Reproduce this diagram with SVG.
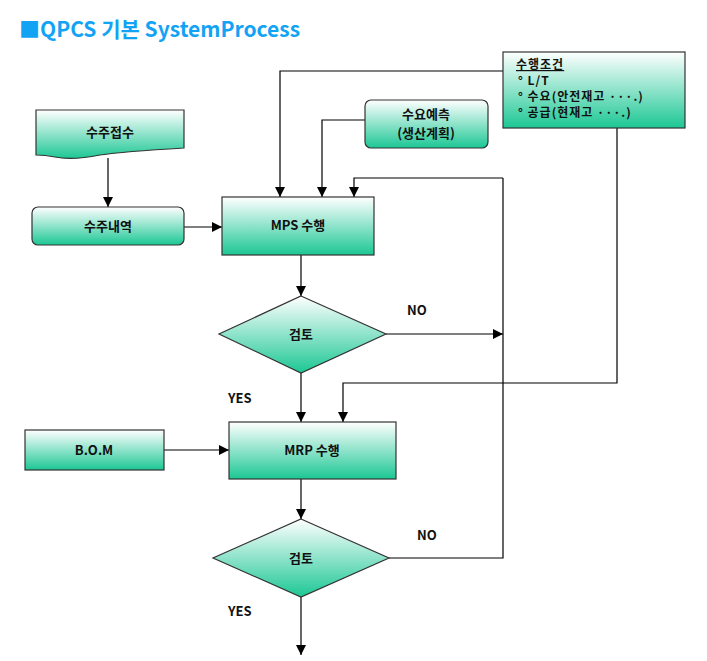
<svg xmlns="http://www.w3.org/2000/svg" width="707" height="661" viewBox="0 0 707 661">
<defs>
<linearGradient id="g" x1="0" y1="0" x2="0" y2="1">
<stop offset="0" stop-color="#ffffff"/>
<stop offset="1" stop-color="#1cc794"/>
</linearGradient>
<marker id="ah" viewBox="0 0 10 10" refX="10" refY="5" markerWidth="10" markerHeight="10" markerUnits="userSpaceOnUse" orient="auto">
<path d="M0,0 L10,5 L0,10 Z" fill="#000"/>
</marker>
<style>
.n{fill:url(#g);stroke:#333;stroke-width:1.2}
.t{font-family:"Noto Sans CJK KR","Noto Sans",sans-serif;font-size:13px;font-weight:bold;fill:#111;text-anchor:middle}
.l{font-family:"Noto Sans CJK KR","Noto Sans",sans-serif;font-size:13px;font-weight:bold;fill:#111}
.s{font-family:"Noto Sans CJK KR","Noto Sans",sans-serif;font-size:12px;font-weight:bold;fill:#111;letter-spacing:1px}
.c{fill:none;stroke:#000;stroke-width:1.2}
.a{marker-end:url(#ah)}
</style>
</defs>
<rect width="707" height="661" fill="#fff"/>
<text x="19" y="37" font-family="'Noto Sans CJK KR','Noto Sans',sans-serif" font-size="21" font-weight="bold" fill="#12a3f5">■QPCS 기본 SystemProcess</text>

<g id="connectors">
<path class="c a" d="M108,158 V207"/>
<path class="c a" d="M184,227 H222"/>
<path class="c a" d="M503,71 H280 V197"/>
<path class="c a" d="M365,120 H322 V197"/>
<path class="c a" d="M503,178 H354 V197"/>
<path class="c a" d="M301,255 V296"/>
<path class="c a" d="M386,334 H503"/>
<path class="c" d="M389,558 H503 V178"/>
<path class="c a" d="M301,373 V422"/>
<path class="c a" d="M617,128 V383 H343 V422"/>
<path class="c a" d="M164,450 H229"/>
<path class="c a" d="M301,479 V519"/>
<path class="c a" d="M301,597 V655"/>
</g>

<g id="n-order-receipt">
<path class="n" d="M36,110 H184 V148 C150,150 120,152 100,155 C85,158 70,160 55,157 C45,155 40,155 36,155 Z"/>
<text class="t" x="110" y="137">수주접수</text>
</g>
<g id="n-order-details">
<rect class="n" x="32" y="207" width="152" height="38" rx="6"/>
<text class="t" x="108" y="231">수주내역</text>
</g>
<g id="n-forecast">
<rect class="n" x="365" y="100" width="123" height="48" rx="6"/>
<text class="t" x="426" y="119">수요예측</text>
<text class="t" x="426" y="138">(생산계획)</text>
</g>
<g id="n-conditions">
<rect class="n" x="503" y="52" width="182" height="76"/>
<text class="s" x="516" y="69" text-decoration="underline">수행조건</text>
<text class="s" x="518" y="85">°  L/T</text>
<text class="s" x="518" y="101">°  수요(안전재고 ···.)</text>
<text class="s" x="518" y="117">°  공급(현재고 ···.)</text>
</g>
<g id="n-mps">
<rect class="n" x="222" y="197" width="152" height="58"/>
<text class="t" x="298" y="230">MPS 수행</text>
</g>
<g id="n-review1">
<path class="n" d="M301,296 L386,334 L301,373 L219,334 Z"/>
<text class="t" x="301" y="339">검토</text>
</g>
<g id="n-bom">
<rect class="n" x="25" y="430" width="139" height="40"/>
<text class="t" x="94" y="455">B.O.M</text>
</g>
<g id="n-mrp">
<rect class="n" x="229" y="422" width="167" height="57"/>
<text class="t" x="312" y="455">MRP 수행</text>
</g>
<g id="n-review2">
<path class="n" d="M301,519 L389,558 L301,597 L213,558 Z"/>
<text class="t" x="301" y="563">검토</text>
</g>
<g id="labels">
<text class="l" x="407" y="315">NO</text>
<text class="l" x="228" y="403">YES</text>
<text class="l" x="417" y="540">NO</text>
<text class="l" x="228" y="616">YES</text>
</g>
</svg>
